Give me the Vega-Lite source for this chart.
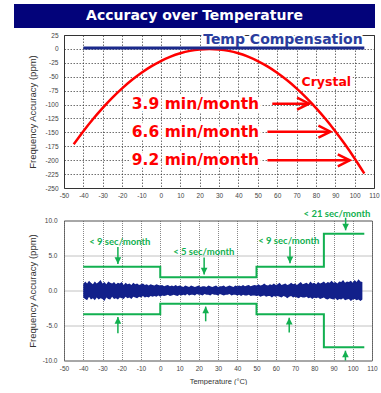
{
"$schema": "https://vega.github.io/schema/vega-lite/v6.json",
"background": "white",
"padding": {"left": 14, "top": 4, "right": 0, "bottom": 0},
"config": {
  "locale": {"number": {"decimal": ".", "thousands": ",", "grouping": [3], "currency": ["$", ""], "minus": "-"}},
  "font": "Liberation Sans"
},
"datasets": {
  "comp": [{"t": -40, "v": 1.5}, {"t": 105, "v": 1.5}],
  "crystal": [
    {"t": -45, "v": -171.5}, {"t": -40, "v": -147.9}, {"t": -35, "v": -126.0}, {"t": -30, "v": -105.9},
    {"t": -25, "v": -87.5}, {"t": -20, "v": -70.9}, {"t": -15, "v": -56.0}, {"t": -10, "v": -42.9},
    {"t": -5, "v": -31.5}, {"t": 0, "v": -21.9}, {"t": 5, "v": -14.0}, {"t": 10, "v": -7.9},
    {"t": 15, "v": -3.5}, {"t": 20, "v": -0.9}, {"t": 25, "v": 0}, {"t": 30, "v": -0.9},
    {"t": 35, "v": -3.5}, {"t": 40, "v": -7.9}, {"t": 45, "v": -14.0}, {"t": 50, "v": -21.9},
    {"t": 55, "v": -31.5}, {"t": 60, "v": -42.9}, {"t": 65, "v": -56.0}, {"t": 70, "v": -70.9},
    {"t": 75, "v": -87.5}, {"t": 80, "v": -105.9}, {"t": 85, "v": -126.0}, {"t": 90, "v": -147.9},
    {"t": 95, "v": -171.5}, {"t": 100, "v": -196.9}, {"t": 105, "v": -224.0}
  ],
  "redArrows": [
    {"t0": 57.5, "t": 76.5, "v": -98.5},
    {"t0": 55, "t": 87.5, "v": -148.8},
    {"t0": 55, "t": 97.5, "v": -200.2}
  ],
  "redLabels": [
    {"label": "3.9 min/month", "t": -15, "v": -98.5},
    {"label": "6.6 min/month", "t": -15, "v": -148.8},
    {"label": "9.2 min/month", "t": -15, "v": -200.2}
  ],
  "compLabel": [{"label": "Temp Compensation", "t": 63, "v": 16}],
  "crystalLabel": [{"label": "Crystal", "t": 85.4, "v": -59.5}],
  "limits": [
    {"side": "upper", "t": -40, "v": 3.4}, {"side": "upper", "t": 0, "v": 1.9}, {"side": "upper", "t": 50, "v": 3.4}, {"side": "upper", "t": 85, "v": 8.1}, {"side": "upper", "t": 106, "v": 8.1},
    {"side": "lower", "t": -40, "v": -3.4}, {"side": "lower", "t": 0, "v": -1.9}, {"side": "lower", "t": 50, "v": -3.4}, {"side": "lower", "t": 85, "v": -8.1}, {"side": "lower", "t": 106, "v": -8.1}
  ],
  "greenArrows": [
    {"t": -22, "v0": 6.2, "v": 3.8, "dir": "down"},
    {"t": 22.8, "v0": 4.7, "v": 2.3, "dir": "down"},
    {"t": 67.4, "v0": 6.3, "v": 3.9, "dir": "down"},
    {"t": 96.3, "v0": 10.4, "v": 8.6, "dir": "down"},
    {"t": -22, "v0": -6.1, "v": -3.8, "dir": "up"},
    {"t": 23.6, "v0": -4.4, "v": -2.3, "dir": "up"},
    {"t": 67, "v0": -6.0, "v": -3.9, "dir": "up"},
    {"t": 96.2, "v0": -10, "v": -8.6, "dir": "up"}
  ],
  "greenLabels": [
    {"label": "< 9 sec/month", "t": -21, "v": 7.0},
    {"label": "< 5 sec/month", "t": 22.6, "v": 5.5},
    {"label": "< 9 sec/month", "t": 66.8, "v": 7.1},
    {"label": "< 21 sec/month", "t": 91.8, "v": 11.0}
  ],
  "noise": [
    {"t": -40, "v": 0.9, "lo": -1.0}, {"t": -39, "v": 1.3, "lo": -1.2}, {"t": -38, "v": 1.0, "lo": -1.4}, {"t": -37, "v": 1.4, "lo": -0.9},
    {"t": -36, "v": 1.1, "lo": -1.3}, {"t": -35, "v": 0.9, "lo": -1.1}, {"t": -34, "v": 1.3, "lo": -1.4}, {"t": -33, "v": 1.0, "lo": -1.0},
    {"t": -32, "v": 1.2, "lo": -1.3}, {"t": -31, "v": 1.5, "lo": -1.1}, {"t": -30, "v": 1.0, "lo": -1.2}, {"t": -29, "v": 1.2, "lo": -1.5},
    {"t": -28, "v": 0.9, "lo": -1.0}, {"t": -27, "v": 1.3, "lo": -1.2}, {"t": -26, "v": 1.1, "lo": -1.3}, {"t": -25, "v": 1.0, "lo": -0.9},
    {"t": -24, "v": 1.2, "lo": -1.2}, {"t": -23, "v": 0.9, "lo": -1.1}, {"t": -22, "v": 1.1, "lo": -1.3}, {"t": -21, "v": 1.0, "lo": -1.0},
    {"t": -20, "v": 1.2, "lo": -1.1}, {"t": -19, "v": 0.8, "lo": -1.2}, {"t": -18, "v": 1.1, "lo": -0.9}, {"t": -17, "v": 0.9, "lo": -1.1},
    {"t": -16, "v": 1.0, "lo": -1.0}, {"t": -15, "v": 0.8, "lo": -1.2}, {"t": -14, "v": 1.1, "lo": -0.9}, {"t": -13, "v": 0.9, "lo": -1.0},
    {"t": -12, "v": 1.0, "lo": -1.1}, {"t": -11, "v": 0.8, "lo": -0.9}, {"t": -10, "v": 0.9, "lo": -1.0}, {"t": -9, "v": 1.0, "lo": -0.8},
    {"t": -8, "v": 0.8, "lo": -1.0}, {"t": -7, "v": 0.9, "lo": -0.9}, {"t": -6, "v": 0.7, "lo": -1.0}, {"t": -5, "v": 0.9, "lo": -0.8},
    {"t": -4, "v": 0.8, "lo": -0.9}, {"t": -3, "v": 0.7, "lo": -0.8}, {"t": -2, "v": 0.9, "lo": -0.9}, {"t": -1, "v": 0.8, "lo": -0.7},
    {"t": 0, "v": 0.7, "lo": -0.9}, {"t": 1, "v": 0.8, "lo": -0.7}, {"t": 2, "v": 0.6, "lo": -0.8}, {"t": 3, "v": 0.7, "lo": -0.7},
    {"t": 4, "v": 0.8, "lo": -0.6}, {"t": 5, "v": 0.6, "lo": -0.8}, {"t": 6, "v": 0.7, "lo": -0.7}, {"t": 7, "v": 0.6, "lo": -0.6},
    {"t": 8, "v": 0.8, "lo": -0.7}, {"t": 9, "v": 0.6, "lo": -0.8}, {"t": 10, "v": 0.7, "lo": -0.6}, {"t": 11, "v": 0.6, "lo": -0.7},
    {"t": 12, "v": 0.5, "lo": -0.6}, {"t": 13, "v": 0.7, "lo": -0.7}, {"t": 14, "v": 0.6, "lo": -0.5}, {"t": 15, "v": 0.5, "lo": -0.7},
    {"t": 16, "v": 0.7, "lo": -0.6}, {"t": 17, "v": 0.6, "lo": -0.6}, {"t": 18, "v": 0.5, "lo": -0.7}, {"t": 19, "v": 0.6, "lo": -0.5},
    {"t": 20, "v": 0.7, "lo": -0.6}, {"t": 21, "v": 0.5, "lo": -0.6}, {"t": 22, "v": 0.6, "lo": -0.7}, {"t": 23, "v": 0.6, "lo": -0.5},
    {"t": 24, "v": 0.5, "lo": -0.6}, {"t": 25, "v": 0.7, "lo": -0.6}, {"t": 26, "v": 0.6, "lo": -0.7}, {"t": 27, "v": 0.5, "lo": -0.5},
    {"t": 28, "v": 0.6, "lo": -0.6}, {"t": 29, "v": 0.7, "lo": -0.6}, {"t": 30, "v": 0.5, "lo": -0.7}, {"t": 31, "v": 0.6, "lo": -0.5},
    {"t": 32, "v": 0.6, "lo": -0.6}, {"t": 33, "v": 0.7, "lo": -0.7}, {"t": 34, "v": 0.5, "lo": -0.6}, {"t": 35, "v": 0.6, "lo": -0.6},
    {"t": 36, "v": 0.7, "lo": -0.5}, {"t": 37, "v": 0.6, "lo": -0.7}, {"t": 38, "v": 0.5, "lo": -0.6}, {"t": 39, "v": 0.7, "lo": -0.6},
    {"t": 40, "v": 0.6, "lo": -0.7}, {"t": 41, "v": 0.7, "lo": -0.6}, {"t": 42, "v": 0.6, "lo": -0.8}, {"t": 43, "v": 0.8, "lo": -0.6},
    {"t": 44, "v": 0.6, "lo": -0.7}, {"t": 45, "v": 0.7, "lo": -0.7}, {"t": 46, "v": 0.8, "lo": -0.6}, {"t": 47, "v": 0.6, "lo": -0.8},
    {"t": 48, "v": 0.7, "lo": -0.7}, {"t": 49, "v": 0.8, "lo": -0.7}, {"t": 50, "v": 0.7, "lo": -0.8}, {"t": 51, "v": 0.9, "lo": -0.7},
    {"t": 52, "v": 0.7, "lo": -0.9}, {"t": 53, "v": 0.8, "lo": -0.8}, {"t": 54, "v": 1.0, "lo": -0.7}, {"t": 55, "v": 0.8, "lo": -0.9},
    {"t": 56, "v": 0.7, "lo": -0.8}, {"t": 57, "v": 0.9, "lo": -0.8}, {"t": 58, "v": 0.8, "lo": -1.0}, {"t": 59, "v": 1.0, "lo": -0.8},
    {"t": 60, "v": 0.8, "lo": -0.9}, {"t": 61, "v": 0.9, "lo": -0.8}, {"t": 62, "v": 1.1, "lo": -0.9}, {"t": 63, "v": 0.8, "lo": -1.0},
    {"t": 64, "v": 0.9, "lo": -0.8}, {"t": 65, "v": 1.0, "lo": -0.9}, {"t": 66, "v": 0.8, "lo": -1.1}, {"t": 67, "v": 0.9, "lo": -0.9},
    {"t": 68, "v": 1.1, "lo": -0.8}, {"t": 69, "v": 0.9, "lo": -1.0}, {"t": 70, "v": 1.0, "lo": -0.9}, {"t": 71, "v": 0.8, "lo": -1.0},
    {"t": 72, "v": 1.0, "lo": -1.1}, {"t": 73, "v": 1.2, "lo": -0.9}, {"t": 74, "v": 0.9, "lo": -1.0}, {"t": 75, "v": 1.0, "lo": -1.0},
    {"t": 76, "v": 1.1, "lo": -0.9}, {"t": 77, "v": 0.9, "lo": -1.1}, {"t": 78, "v": 1.3, "lo": -1.0}, {"t": 79, "v": 1.0, "lo": -1.2},
    {"t": 80, "v": 1.1, "lo": -1.0}, {"t": 81, "v": 0.9, "lo": -1.1}, {"t": 82, "v": 1.2, "lo": -1.0}, {"t": 83, "v": 1.0, "lo": -1.2},
    {"t": 84, "v": 1.1, "lo": -1.1}, {"t": 85, "v": 1.3, "lo": -1.0}, {"t": 86, "v": 1.0, "lo": -1.2}, {"t": 87, "v": 1.2, "lo": -1.3},
    {"t": 88, "v": 1.1, "lo": -1.1}, {"t": 89, "v": 1.4, "lo": -1.2}, {"t": 90, "v": 1.1, "lo": -1.3}, {"t": 91, "v": 1.2, "lo": -1.1},
    {"t": 92, "v": 1.0, "lo": -1.4}, {"t": 93, "v": 1.3, "lo": -1.2}, {"t": 94, "v": 1.2, "lo": -1.3}, {"t": 95, "v": 1.5, "lo": -1.1},
    {"t": 96, "v": 1.1, "lo": -1.4}, {"t": 97, "v": 1.3, "lo": -1.3}, {"t": 98, "v": 1.2, "lo": -1.2}, {"t": 99, "v": 1.4, "lo": -1.5},
    {"t": 100, "v": 1.1, "lo": -1.3}, {"t": 101, "v": 1.5, "lo": -1.2}, {"t": 102, "v": 1.2, "lo": -1.4}, {"t": 103, "v": 1.6, "lo": -1.3},
    {"t": 104, "v": 1.3, "lo": -1.5}, {"t": 105, "v": 1.2, "lo": -1.3}
  ]
},
"vconcat": [
  {
    "width": 361, "height": 24,
    "view": {"fill": "#03037a", "stroke": null},
    "data": {"values": [{"title": "Accuracy over Temperature"}]},
    "mark": {"type": "text", "font": "DejaVu Sans", "fontWeight": "bold", "fontSize": 14, "color": "white", "baseline": "middle", "align": "center"},
    "encoding": {"text": {"field": "title"}}
  },
  {
    "spacing": 0,
    "hconcat": [
      {
        "width": 1, "height": 1,
        "view": {"fill": "white", "stroke": null},
        "data": {"values": []},
        "mark": "text"
      },
      {
        "spacing": 8.5,
        "vconcat": [
          {
            "width": 310, "height": 153,
            "view": {"stroke": "#333", "strokeWidth": 1},
            "encoding": {
              "x": {"field": "t", "type": "quantitative", "scale": {"domain": [-50, 110], "nice": false, "zero": false},
                    "axis": {"values": [-50, -40, -30, -20, -10, 0, 10, 20, 30, 40, 50, 60, 70, 80, 90, 100, 110], "title": null, "ticks": false, "domain": false,
                             "labelFontSize": 6.5, "labelColor": "#444", "labelPadding": 4, "labelFlush": false, "labelOverlap": false,
                             "grid": true, "gridColor": "#333", "gridDash": [1.5, 1.5], "gridWidth": 0.7}},
              "y": {"field": "v", "type": "quantitative", "scale": {"domain": [-250, 25], "nice": false, "zero": false},
                    "axis": {"values": [25, 0, -25, -50, -75, -100, -125, -150, -175, -200, -225, -250],
                             "title": ["", "Frequency Accuracy (ppm)"], "titleLineHeight": 11, "titleFontSize": 9.5, "titleFontWeight": "normal", "titleColor": "#333", "titlePadding": 8,
                             "minExtent": 19, "maxExtent": 19, "ticks": false, "domain": false,
                             "labelFontSize": 6.5, "labelColor": "#444", "labelPadding": 6, "labelFlush": false, "labelOverlap": false,
                             "grid": true, "gridColor": "#333", "gridDash": [1.5, 1.5], "gridWidth": 0.7}}
            },
            "layer": [
              {
                "data": {"name": "crystal"},
                "mark": {"type": "line", "color": "#ff0000", "strokeWidth": 2.5, "interpolate": "monotone"}
              },
              {
                "data": {"name": "redArrows"},
                "mark": {"type": "rule", "color": "#ff0000", "strokeWidth": 2.5},
                "encoding": {"x2": {"field": "t0"}}
              },
              {
                "data": {"name": "redArrows"},
                "mark": {"type": "point", "shape": "M-2,-1L0,0L-2,1", "filled": false, "stroke": "#ff0000", "strokeWidth": 2.5, "size": 144, "opacity": 1}
              },
              {
                "data": {"name": "redLabels"},
                "mark": {"type": "text", "font": "DejaVu Sans", "fontWeight": "bold", "fontSize": 15.5, "align": "left", "baseline": "middle", "fill": "white", "stroke": "white", "strokeWidth": 6, "strokeJoin": "round"},
                "encoding": {"text": {"field": "label"}}
              },
              {
                "data": {"name": "redLabels"},
                "mark": {"type": "text", "font": "DejaVu Sans", "fontWeight": "bold", "fontSize": 15.5, "align": "left", "baseline": "middle", "fill": "#ff0000"},
                "encoding": {"text": {"field": "label"}}
              },
              {
                "data": {"name": "compLabel"},
                "mark": {"type": "text", "font": "DejaVu Sans", "fontWeight": "bold", "fontSize": 14, "align": "center", "baseline": "middle", "fill": "white", "stroke": "white", "strokeWidth": 4, "strokeJoin": "round"},
                "encoding": {"text": {"field": "label"}}
              },
              {
                "data": {"name": "comp"},
                "mark": {"type": "line", "color": "#1b2a8c", "strokeWidth": 3}
              },
              {
                "data": {"name": "compLabel"},
                "mark": {"type": "text", "font": "DejaVu Sans", "fontWeight": "bold", "fontSize": 14, "align": "center", "baseline": "middle", "fill": "#2a3d9e"},
                "encoding": {"text": {"field": "label"}}
              },
              {
                "data": {"name": "crystalLabel"},
                "mark": {"type": "text", "font": "DejaVu Sans", "fontWeight": "bold", "fontSize": 12.5, "align": "center", "baseline": "middle", "fill": "white", "stroke": "white", "strokeWidth": 5, "strokeJoin": "round"},
                "encoding": {"text": {"field": "label"}}
              },
              {
                "data": {"name": "crystalLabel"},
                "mark": {"type": "text", "font": "DejaVu Sans", "fontWeight": "bold", "fontSize": 12.5, "align": "center", "baseline": "middle", "fill": "#ff0000"},
                "encoding": {"text": {"field": "label"}}
              }
            ]
          },
          {
            "width": 308, "height": 140,
            "view": {"stroke": "#777", "strokeWidth": 1},
            "encoding": {
              "x": {"field": "t", "type": "quantitative", "scale": {"domain": [-50, 110], "nice": false, "zero": false},
                    "axis": {"values": [-50, -40, -30, -20, -10, 0, 10, 20, 30, 40, 50, 60, 70, 80, 90, 100, 110], "title": "Temperature (°C)", "titleFontSize": 7.5, "titleFontWeight": "normal", "titleColor": "#333", "titlePadding": 5,
                             "ticks": false, "domain": false,
                             "labelFontSize": 6.5, "labelColor": "#444", "labelPadding": 5, "labelFlush": false, "labelOverlap": false,
                             "grid": true, "gridColor": "#555", "gridDash": [1, 1], "gridWidth": 0.7}},
              "y": {"field": "v", "type": "quantitative", "scale": {"domain": [-10, 10], "nice": false, "zero": false},
                    "axis": {"values": [10, 5, 0, -5, -10], "format": ".1f",
                             "title": ["", "Frequency Accuracy (ppm)"], "titleLineHeight": 11, "titleFontSize": 9.5, "titleFontWeight": "normal", "titleColor": "#333", "titlePadding": 8,
                             "minExtent": 19, "maxExtent": 19, "ticks": false, "domain": false,
                             "labelFontSize": 6.5, "labelColor": "#444", "labelPadding": 7, "labelFlush": false, "labelOverlap": false,
                             "grid": true, "gridColor": "#555", "gridDash": [1, 1], "gridWidth": 0.7}}
            },
            "layer": [
              {
                "data": {"name": "noise"},
                "mark": {"type": "area", "color": "#12208a", "opacity": 1},
                "encoding": {"y2": {"field": "lo"}}
              },
              {
                "data": {"name": "limits"},
                "mark": {"type": "line", "color": "#12b050", "strokeWidth": 2, "interpolate": "step-after"},
                "encoding": {"detail": {"field": "side"}}
              },
              {
                "data": {"name": "greenArrows"},
                "mark": {"type": "rule", "color": "#12b050", "strokeWidth": 1.5},
                "encoding": {"y2": {"field": "v0"}}
              },
              {
                "data": {"name": "greenArrows"},
                "mark": {"type": "point", "filled": true, "color": "#12b050", "size": 44, "opacity": 1},
                "encoding": {
                  "shape": {"field": "dir", "type": "nominal", "scale": {"domain": ["down", "up"], "range": ["M-1,-2L1,-2L0,0Z", "M-1,2L1,2L0,0Z"]}, "legend": null}
                }
              },
              {
                "data": {"name": "greenLabels"},
                "mark": {"type": "text", "font": "Lato", "fontWeight": "bold", "fontSize": 9.5, "align": "center", "baseline": "middle", "fill": "#12b050"},
                "encoding": {"text": {"field": "label"}}
              }
            ]
          }
        ]
      }
    ]
  }
],
"spacing": 3
}
